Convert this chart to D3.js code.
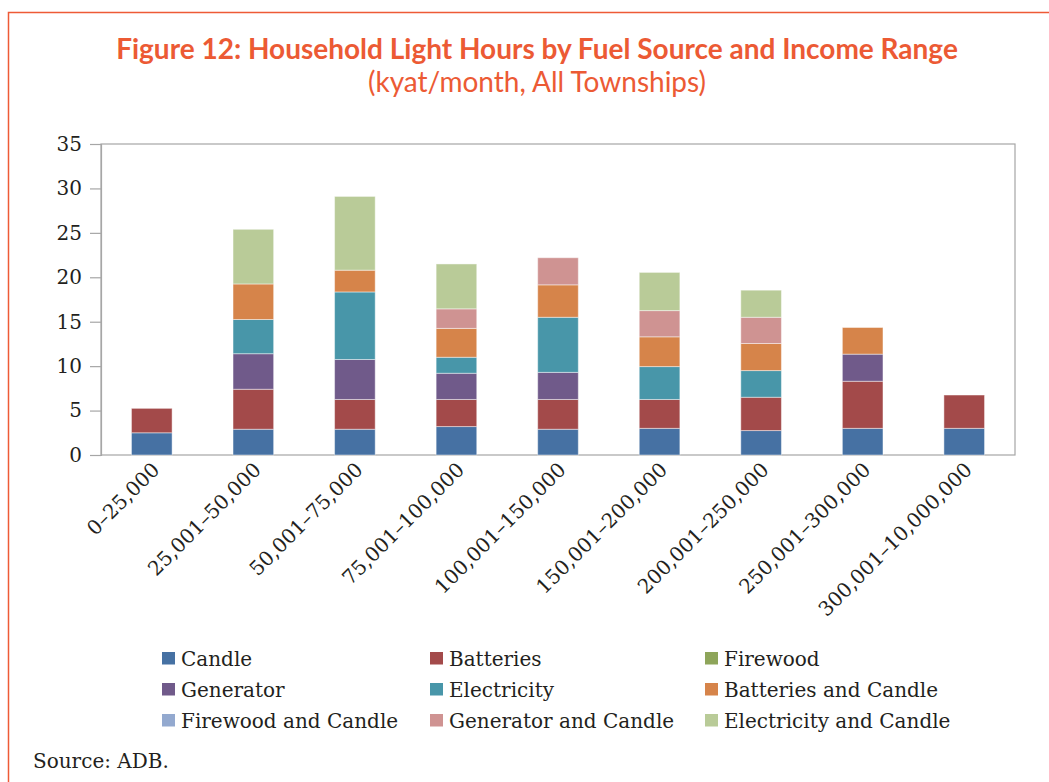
<!DOCTYPE html>
<html>
<head>
<meta charset="utf-8">
<script src="https://cdn.jsdelivr.net/npm/d3@7"></script>
<style>
  body { margin: 0; background: #fff; }
</style>
</head>
<body>
<script>
var width = 1049,
    height = 782;

// income ranges (x categories)
var categories = ['0–25,000', '25,001–50,000', '50,001–75,000', '75,001–100,000',
  '100,001–150,000', '150,001–200,000', '200,001–250,000', '250,001–300,000', '300,001–10,000,000'];

// light hours per fuel source, one value per income range
var candle              = [2.5, 2.9, 2.9, 3.2, 2.9, 3.0, 2.75, 3.0, 3.0];
var batteries           = [2.75, 4.5, 3.35, 3.05, 3.35, 3.25, 3.75, 5.3, 3.75];
var firewood            = [0, 0, 0, 0, 0, 0, 0, 0, 0];
var generator           = [0, 4.0, 4.5, 2.95, 3.05, 0, 0, 3.05, 0];
var electricity         = [0, 3.85, 7.6, 1.8, 6.2, 3.7, 3.0, 0, 0];
var batteriesCandle     = [0, 4.0, 2.45, 3.25, 3.65, 3.35, 3.05, 3.0, 0];
var firewoodCandle      = [0, 0, 0, 0, 0, 0, 0, 0, 0];
var generatorCandle     = [0, 0, 0, 2.2, 3.05, 2.95, 2.95, 0, 0];
var electricityCandle   = [0, 6.15, 8.3, 5.05, 0, 4.3, 3.05, 0, 0];

var seriesNames = ['Candle', 'Batteries', 'Firewood', 'Generator', 'Electricity',
  'Batteries and Candle', 'Firewood and Candle', 'Generator and Candle', 'Electricity and Candle'];
var seriesValues = [candle, batteries, firewood, generator, electricity,
  batteriesCandle, firewoodCandle, generatorCandle, electricityCandle];
var yTicks = [0, 5, 10, 15, 20, 25, 30, 35];

var colors = ['#4671a3', '#a34a4a', '#8ea55a', '#705a8a', '#4896a9',
  '#d6844a', '#93a9cf', '#cf9392', '#b9cb98'];

var margin = {left: 101, right: 1015, top: 144, bottom: 455};

var svg = d3.select('body')
  .append('svg')
    .attr('width', width)
    .attr('height', height)

// orange frame (runs off the page on right and bottom)
svg.append('rect')
    .attr('x', 8.5)
    .attr('y', 12.5)
    .attr('width', width + 20)
    .attr('height', height + 20)
    .attr('fill', 'none')
    .attr('stroke', '#ee5a36')
    .attr('stroke-width', 1.5)

svg.append('text')
    .attr('x', 537)
    .attr('y', 59)
    .attr('text-anchor', 'middle')
    .attr('font-family', 'Lato')
    .attr('font-weight', 'bold')
    .attr('font-size', 28)
    .attr('fill', '#ec5a34')
    .text('Figure 12: Household Light Hours by Fuel Source and Income Range')

svg.append('text')
    .attr('x', 537)
    .attr('y', 92)
    .attr('text-anchor', 'middle')
    .attr('font-family', 'Lato')
    .attr('font-size', 28)
    .attr('fill', '#ec5a34')
    .text('(kyat/month, All Townships)')

var x = d3.scaleBand()
    .domain(categories)
    .range([margin.left, margin.right])
    .paddingInner(0.6)
    .paddingOuter(0.3)

var y = d3.scaleLinear()
    .domain([0, 35])
    .range([margin.bottom, margin.top])

// plot box
svg.append('rect')
    .attr('x', margin.left)
    .attr('y', margin.top)
    .attr('width', margin.right - margin.left)
    .attr('height', margin.bottom - margin.top)
    .attr('fill', 'none')
    .attr('stroke', '#a6a6a6')
    .attr('stroke-width', 1.2)

var rows = categories.map(function(c, i){
  var row = {category: c};
  seriesNames.forEach(function(s, j){ row[s] = seriesValues[j][i]; });
  return row;
});

var stacked = d3.stack().keys(seriesNames)(rows);

svg.selectAll('g.series')
    .data(stacked).enter()
  .append('g')
    .attr('class', 'series')
    .attr('fill', function(d, i){ return colors[i]; })
  .selectAll('rect')
    .data(function(d){ return d.filter(function(p){ return p[1] - p[0] > 0; }); }).enter()
  .append('rect')
    .attr('x', function(d){ return x(d.data.category); })
    .attr('width', x.bandwidth())
    .attr('y', function(d){ return y(d[1]); })
    .attr('height', function(d){ return y(d[0]) - y(d[1]); })
    .attr('stroke', 'rgba(255,255,255,0.45)')
    .attr('stroke-width', 1)

// y axis
var yAxis = svg.append('g')
    .attr('transform', 'translate(' + margin.left + ',0)')
    .call(d3.axisLeft(y).tickValues(yTicks).tickSize(11).tickPadding(8))

yAxis.select('.domain').attr('stroke', '#a6a6a6').attr('stroke-width', 1.2)
yAxis.selectAll('.tick line').attr('stroke', '#a6a6a6').attr('stroke-width', 1.2)
yAxis.selectAll('text')
    .attr('font-family', 'DejaVu Serif')
    .attr('font-size', 20)
    .attr('fill', '#231f20')

// x axis
var xAxis = svg.append('g')
    .attr('transform', 'translate(0,' + margin.bottom + ')')
    .call(d3.axisBottom(x).tickSize(0).tickPadding(0))

xAxis.select('.domain').remove()
xAxis.selectAll('text')
    .attr('font-family', 'DejaVu Serif')
    .attr('font-size', 20)
    .attr('fill', '#231f20')
    .attr('text-anchor', 'end')
    .attr('dy', 0)
    .attr('transform', 'translate(9,16) rotate(-45)')

// legend
var legendX = [162, 430, 705],
    legendY = [652, 683, 714];

var legend = svg.selectAll('g.legend')
    .data(seriesNames).enter()
  .append('g')
    .attr('class', 'legend')
    .attr('transform', function(d, i){
      return 'translate(' + legendX[i % 3] + ',' + legendY[Math.floor(i / 3)] + ')';
    })

legend.append('rect')
    .attr('width', 13)
    .attr('height', 12.5)
    .attr('fill', function(d, i){ return colors[i]; })

legend.append('text')
    .attr('x', 19)
    .attr('y', 13.5)
    .attr('font-family', 'DejaVu Serif')
    .attr('font-size', 20)
    .attr('fill', '#231f20')
    .text(function(d){ return d; })

svg.append('text')
    .attr('x', 33)
    .attr('y', 768)
    .attr('font-family', 'DejaVu Serif')
    .attr('font-size', 20)
    .attr('fill', '#231f20')
    .text('Source: ADB.')
</script>
</body>
</html>
